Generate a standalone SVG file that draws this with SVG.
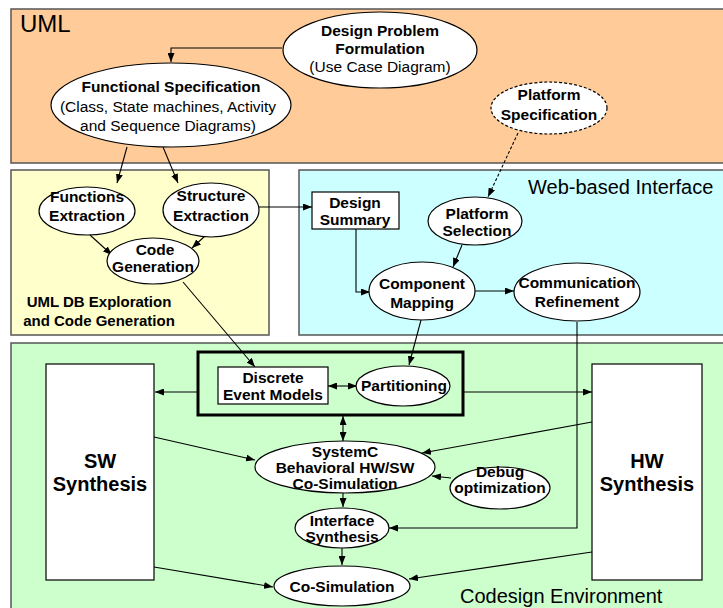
<svg xmlns="http://www.w3.org/2000/svg" width="723" height="608" viewBox="0 0 723 608">
  <style>
    .panel { stroke: #555555; stroke-width: 1.5; }
    .node { fill: #ffffff; stroke: #000000; stroke-width: 1.2; }
    .b { font-family: "Liberation Sans", Arial, sans-serif; font-weight: bold; font-size: 15.5px; fill: #000000; text-anchor: middle; }
    .r { font-family: "Liberation Sans", Arial, sans-serif; font-size: 15.5px; fill: #000000; text-anchor: middle; }
    .title { font-family: "Liberation Sans", Arial, sans-serif; font-size: 20px; fill: #000000; }
    .big { font-family: "Liberation Sans", Arial, sans-serif; font-weight: bold; font-size: 20px; fill: #000000; text-anchor: middle; }
    .edge { fill: none; stroke: #000000; stroke-width: 1.1; }
  </style>
  <defs>
    <marker id="arr" markerUnits="userSpaceOnUse" markerWidth="9" markerHeight="7" refX="9" refY="3.5" orient="auto-start-reverse">
      <path d="M0,0 L9,3.5 L0,7 z" fill="#000000"/>
    </marker>
  </defs>

  <!-- background panels -->
  <g id="panels">
    <rect class="panel" x="11" y="9" width="720" height="154" fill="#FFCC99"/>
    <rect class="panel" x="11" y="170" width="258" height="165" fill="#FFFFCC"/>
    <rect class="panel" x="299" y="170" width="430" height="165" fill="#CCFFFF"/>
    <rect class="panel" x="11" y="343" width="720" height="270" fill="#CCFFCC"/>
    <text x="20" y="32" class="title" style="font-size:24px">UML</text>
    <text x="528" y="194" class="title">Web-based Interface</text>
    <text x="460" y="603" class="title">Codesign Environment</text>
    <text x="99" y="307" class="b" style="font-size:15px">UML DB Exploration</text>
    <text x="99" y="326" class="b" style="font-size:15px">and Code Generation</text>
  </g>

  <!-- connectors -->
  <g id="connectors">
    <path class="edge" d="M282,48 H171 V62" marker-end="url(#arr)"/>
    <path class="edge" d="M127,147 L117,183" marker-end="url(#arr)"/>
    <path class="edge" d="M163,147 L178,183" marker-end="url(#arr)"/>
    <path class="edge" d="M90,235 L112,255" marker-end="url(#arr)"/>
    <path class="edge" d="M205,236 L192,248" marker-end="url(#arr)"/>
    <path class="edge" d="M259,207 H312" marker-end="url(#arr)"/>
    <path class="edge" d="M518,133 L488,197" stroke-dasharray="3,2" stroke-width="1.5" marker-end="url(#arr)"/>
    <path class="edge" d="M356,229 V292 H370" marker-end="url(#arr)"/>
    <path class="edge" d="M462,245 L453,267" marker-end="url(#arr)"/>
    <path class="edge" d="M475,291 H514" marker-end="url(#arr)"/>
    <path class="edge" d="M183,282 L255,367" marker-end="url(#arr)"/>
    <path class="edge" d="M421,320 L409,365" marker-end="url(#arr)"/>
    <path class="edge" d="M577,322 V528 H389" marker-end="url(#arr)"/>
    <path class="edge" d="M328,386 H357" marker-start="url(#arr)" marker-end="url(#arr)"/>
    <path class="edge" d="M198,392 H155" marker-end="url(#arr)"/>
    <path class="edge" d="M463,392 H592" marker-end="url(#arr)"/>
    <path class="edge" d="M343,416 V441" marker-start="url(#arr)" marker-end="url(#arr)"/>
    <path class="edge" d="M154,437 L255,460" marker-end="url(#arr)"/>
    <path class="edge" d="M592,422 L422,453" marker-end="url(#arr)"/>
    <path class="edge" d="M451,478 L432,476" marker-end="url(#arr)"/>
    <path class="edge" d="M343,493 V507" marker-end="url(#arr)"/>
    <path class="edge" d="M342,548 V565" marker-end="url(#arr)"/>
    <path class="edge" d="M154,567 L273,587" marker-end="url(#arr)"/>
    <path class="edge" d="M592,552 L409,579" marker-end="url(#arr)"/>
  </g>

  <g id="design-problem">
    <ellipse class="node" cx="380" cy="50" rx="97" ry="38"/>
    <text x="380" y="36" class="b">Design Problem</text>
    <text x="380" y="54" class="b">Formulation</text>
    <text x="380" y="72" class="r">(Use Case Diagram)</text>
  </g>

  <g id="functional-spec">
    <ellipse class="node" cx="171" cy="105" rx="120" ry="42"/>
    <text x="171" y="92" class="b">Functional Specification</text>
    <text x="168" y="112" class="r">(Class, State machines, Activity</text>
    <text x="168" y="131" class="r">and Sequence Diagrams)</text>
  </g>

  <g id="platform-spec">
    <ellipse class="node" cx="549" cy="108" rx="58" ry="26" stroke-dasharray="3,2" stroke-width="1.5"/>
    <text x="549" y="100" class="b">Platform</text>
    <text x="549" y="120" class="b">Specification</text>
  </g>

  <g id="functions-extraction">
    <ellipse class="node" cx="87" cy="211" rx="48" ry="24"/>
    <text x="87" y="202" class="b">Functions</text>
    <text x="87" y="221" class="b">Extraction</text>
  </g>

  <g id="structure-extraction">
    <ellipse class="node" cx="211" cy="210" rx="48" ry="27"/>
    <text x="211" y="201" class="b">Structure</text>
    <text x="211" y="221" class="b">Extraction</text>
  </g>

  <g id="code-generation">
    <ellipse class="node" cx="153" cy="261" rx="46" ry="23"/>
    <text x="155" y="255" class="b">Code</text>
    <text x="153" y="272" class="b">Generation</text>
  </g>

  <g id="design-summary">
    <rect class="node" x="312" y="192" width="87" height="37"/>
    <text x="355" y="208" class="b">Design</text>
    <text x="355" y="225" class="b">Summary</text>
  </g>

  <g id="platform-selection">
    <ellipse class="node" cx="475" cy="221" rx="47" ry="24"/>
    <text x="477" y="219" class="b">Platform</text>
    <text x="477" y="236" class="b">Selection</text>
  </g>

  <g id="component-mapping">
    <ellipse class="node" cx="422" cy="291" rx="53" ry="29"/>
    <text x="422" y="289" class="b">Component</text>
    <text x="422" y="308" class="b">Mapping</text>
  </g>

  <g id="communication-refinement">
    <ellipse class="node" cx="577" cy="292" rx="63" ry="29"/>
    <text x="577" y="288" class="b">Communication</text>
    <text x="577" y="307" class="b">Refinement</text>
  </g>

  <g id="model-block">
    <rect x="198" y="352" width="265" height="63" fill="none" stroke="#000000" stroke-width="3"/>
  </g>

  <g id="discrete-event-models">
    <rect class="node" x="218" y="367" width="110" height="37"/>
    <text x="273" y="383" class="b">Discrete</text>
    <text x="273" y="400" class="b">Event Models</text>
  </g>

  <g id="partitioning">
    <ellipse class="node" cx="403" cy="386" rx="47" ry="20"/>
    <text x="404" y="391" class="b">Partitioning</text>
  </g>

  <g id="sw-synthesis">
    <rect class="node" x="46" y="364" width="108" height="216"/>
    <text x="100" y="468" class="big">SW</text>
    <text x="100" y="491" class="big">Synthesis</text>
  </g>

  <g id="hw-synthesis">
    <rect class="node" x="592" y="364" width="110" height="216"/>
    <text x="647" y="468" class="big">HW</text>
    <text x="647" y="491" class="big">Synthesis</text>
  </g>

  <g id="systemc-cosim">
    <ellipse class="node" cx="345" cy="467" rx="90" ry="26"/>
    <text x="345" y="457" class="b">SystemC</text>
    <text x="345" y="473" class="b">Behavioral HW/SW</text>
    <text x="345" y="489" class="b">Co-Simulation</text>
  </g>

  <g id="debug-optimization">
    <ellipse class="node" cx="500" cy="488" rx="50" ry="21"/>
    <text x="500" y="477" class="b">Debug</text>
    <text x="500" y="493" class="b">optimization</text>
  </g>

  <g id="interface-synthesis">
    <ellipse class="node" cx="342" cy="528" rx="47" ry="20"/>
    <text x="342" y="526" class="b">Interface</text>
    <text x="342" y="542" class="b">Synthesis</text>
  </g>

  <g id="co-simulation">
    <ellipse class="node" cx="342" cy="586" rx="68" ry="20"/>
    <text x="342" y="592" class="b">Co-Simulation</text>
  </g>
</svg>
